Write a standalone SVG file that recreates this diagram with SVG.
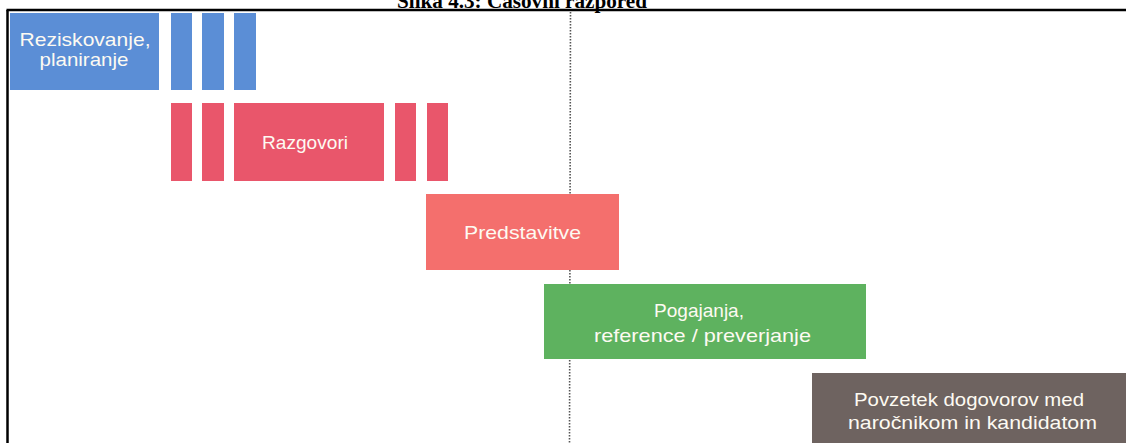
<svg xmlns="http://www.w3.org/2000/svg" width="1126" height="443" viewBox="0 0 1126 443">
<style>
.t{font-family:"Liberation Sans",Arial,sans-serif;font-size:19px;fill:#fdfaf2;text-anchor:middle}
.blue{fill:#5b8ed6}
.red{fill:#e9566b}
</style>
<rect width="1126" height="443" fill="#fff"/>
<text x="522" y="8" font-family="Liberation Serif,Times New Roman,serif" font-weight="bold" font-size="21" text-anchor="middle" fill="#000" textLength="250" lengthAdjust="spacingAndGlyphs">Slika 4.3: Časovni razpored</text>
<g id="frame" stroke="#000" stroke-width="2.5" fill="none">
<line x1="7.5" y1="10" x2="7.5" y2="443"/>
<line x1="6.5" y1="10" x2="1126" y2="10"/>
</g>
<g id="connectors">
<line x1="570.5" y1="12" x2="569.5" y2="443" stroke="#555" stroke-width="1.6" stroke-dasharray="1.5 1.5"/>
</g>
<g id="planiranje">
<rect class="blue" x="10" y="13" width="149" height="77"/>
<rect class="blue" x="171" y="13" width="21" height="77"/>
<rect class="blue" x="202" y="13" width="22" height="77"/>
<rect class="blue" x="234" y="13" width="22" height="77"/>
<text class="t" x="85" y="46" textLength="131" lengthAdjust="spacingAndGlyphs">Reziskovanje,</text>
<text class="t" x="84" y="66" textLength="89" lengthAdjust="spacingAndGlyphs">planiranje</text>
</g>
<g id="razgovori">
<rect class="red" x="171" y="103" width="21" height="78"/>
<rect class="red" x="202" y="103" width="22" height="78"/>
<rect class="red" x="234" y="103" width="150" height="78"/>
<rect class="red" x="395" y="103" width="21" height="78"/>
<rect class="red" x="427" y="103" width="21" height="78"/>
<text class="t" x="305" y="149" textLength="86" lengthAdjust="spacingAndGlyphs">Razgovori</text>
</g>
<g id="predstavitve">
<rect x="426" y="194" width="193" height="76" fill="#f46f6d"/>
<text class="t" x="522.5" y="239" textLength="117" lengthAdjust="spacingAndGlyphs">Predstavitve</text>
</g>
<g id="pogajanja">
<rect x="544" y="284" width="322" height="75" fill="#5eb25f"/>
<text class="t" x="699" y="317" textLength="90" lengthAdjust="spacingAndGlyphs">Pogajanja,</text>
<text class="t" x="702.5" y="342" textLength="217" lengthAdjust="spacingAndGlyphs">reference / preverjanje</text>
</g>
<g id="povzetek">
<rect x="812" y="373" width="314" height="70" fill="#6e6360"/>
<text class="t" x="969" y="406" textLength="230" lengthAdjust="spacingAndGlyphs">Povzetek dogovorov med</text>
<text class="t" x="972.5" y="429" textLength="249" lengthAdjust="spacingAndGlyphs">naročnikom in kandidatom</text>
</g>
</svg>
